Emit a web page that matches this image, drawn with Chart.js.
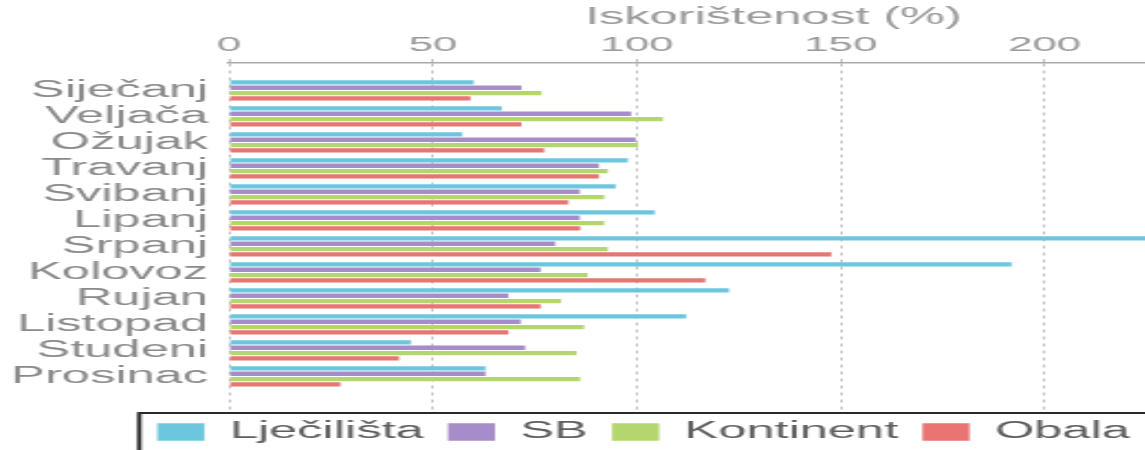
<!DOCTYPE html>
<html><head><meta charset="utf-8">
<script src="https://cdn.jsdelivr.net/npm/chart.js@4/dist/chart.umd.min.js"></script>
<style>
html,body{margin:0;padding:0;background:#fff;overflow:hidden;width:1145px;height:450px;}
#wrap{position:absolute;left:0;top:0;width:599px;height:450px;transform:scaleX(2.2);transform-origin:0 0;}
canvas{display:block;}
</style></head><body>
<div id="wrap"><canvas id="c" width="599" height="450"></canvas></div>
<script>
const months = ['Siječanj','Veljača','Ožujak','Travanj','Svibanj','Lipanj','Srpanj','Kolovoz','Rujan','Listopad','Studeni','Prosinac'];
const seriesNames = ['Lječilišta','SB','Kontinent','Obala'];
const ljecilista = [60.0, 66.9, 57.2, 97.8, 94.8, 104.4, 245, 191.9, 122.6, 112.1, 44.6, 62.9];
const sb         = [71.7, 98.6, 99.7, 90.7, 86.0, 86.0, 80.0, 76.4, 68.5, 71.5, 72.6, 62.9];
const kontinent  = [76.6, 106.4, 100.3, 92.9, 92.0, 92.0, 92.9, 87.9, 81.4, 87.1, 85.2, 86.1];
const obala      = [59.2, 71.7, 77.3, 90.7, 83.2, 86.1, 147.7, 116.8, 76.4, 68.5, 41.7, 27.3];
const xTicks = [0, 50, 100, 150, 200, 250];
const axisTitle = 'Iskorištenost (%)';
const colors = ['#6cc7de', '#a68cc8', '#b4d66f', '#e87474'];

const FONT = "'Liberation Sans', Arial, sans-serif";
const toPts = arr => arr.map((v, i) => ({x: v, y: i}));

const legendFrame = {
  id: 'legendFrame',
  afterDraw(chart) {
    const hb = chart.legend && chart.legend.legendHitBoxes;
    if (!hb || !hb.length) return;
    const first = hb[0], last = hb[hb.length - 1];
    const ctx = chart.ctx;
    const l = first.left - 8.2, r = last.left + last.width + 11.8, t = first.top - 7.5;
    ctx.save();
    ctx.strokeStyle = '#2a2a2a';
    ctx.lineWidth = 2;
    ctx.strokeRect(l, t, r - l, 80);
    ctx.restore();
  }
};

new Chart(document.getElementById('c'), {
  type: 'bar',
  data: {
    datasets: [ljecilista, sb, kontinent, obala].map((arr, k) => ({
      label: seriesNames[k],
      data: toPts(arr),
      backgroundColor: colors[k],
      borderWidth: 0,
      categoryPercentage: 0.82,
      barPercentage: 0.82
    }))
  },
  options: {
    responsive: false,
    animation: false,
    indexAxis: 'y',
    layout: {padding: {left: 60.5, right: 0, top: 0, bottom: -3.5}},
    scales: {
      x: {
        type: 'linear', position: 'top', min: 0, max: 267, offset: false,
        afterBuildTicks: s => { s.ticks = xTicks.map(v => ({value: v})); },
        afterFit: s => { s.height = 63; },
        ticks: {padding: 1.5, color: '#9a9a9a', font: {family: FONT, size: 20}},
        grid: {color: '#c2c2c2', lineWidth: 1, tickLength: 4, drawTicks: true},
        border: {display: true, color: '#a8a8a8', width: 1.5, dash: [3, 4]},
        title: {display: true, text: axisTitle, color: '#9a9a9a', font: {family: FONT, size: 23}, padding: {top: 4, bottom: 0}}
      },
      y: {
        type: 'linear', reverse: true, min: -1.054, max: 12.273, offset: false,
        afterBuildTicks: s => { s.ticks = months.map((m, i) => ({value: i})); },
        afterFit: s => {
          s.width = 104.1 - 60.5;
          s._computeLabelArea = function () { return {top: 0, left: 0, bottom: this.chart.height, right: this.right}; };
        },
        ticks: {autoSkip: false, callback: v => months[v], padding: 9.5, color: '#8a8a8a', font: {family: FONT, size: 23}},
        grid: {display: false, drawTicks: false},
        border: {display: false}
      }
    },
    plugins: {
      legend: {
        position: 'bottom', align: 'start',
        labels: {boxWidth: 21.4, boxHeight: 17.7, padding: 11, color: '#5e5e5e', font: {family: FONT, size: 23}}
      },
      tooltip: {enabled: false}
    }
  },
  plugins: [legendFrame]
});
</script>
</body></html>
